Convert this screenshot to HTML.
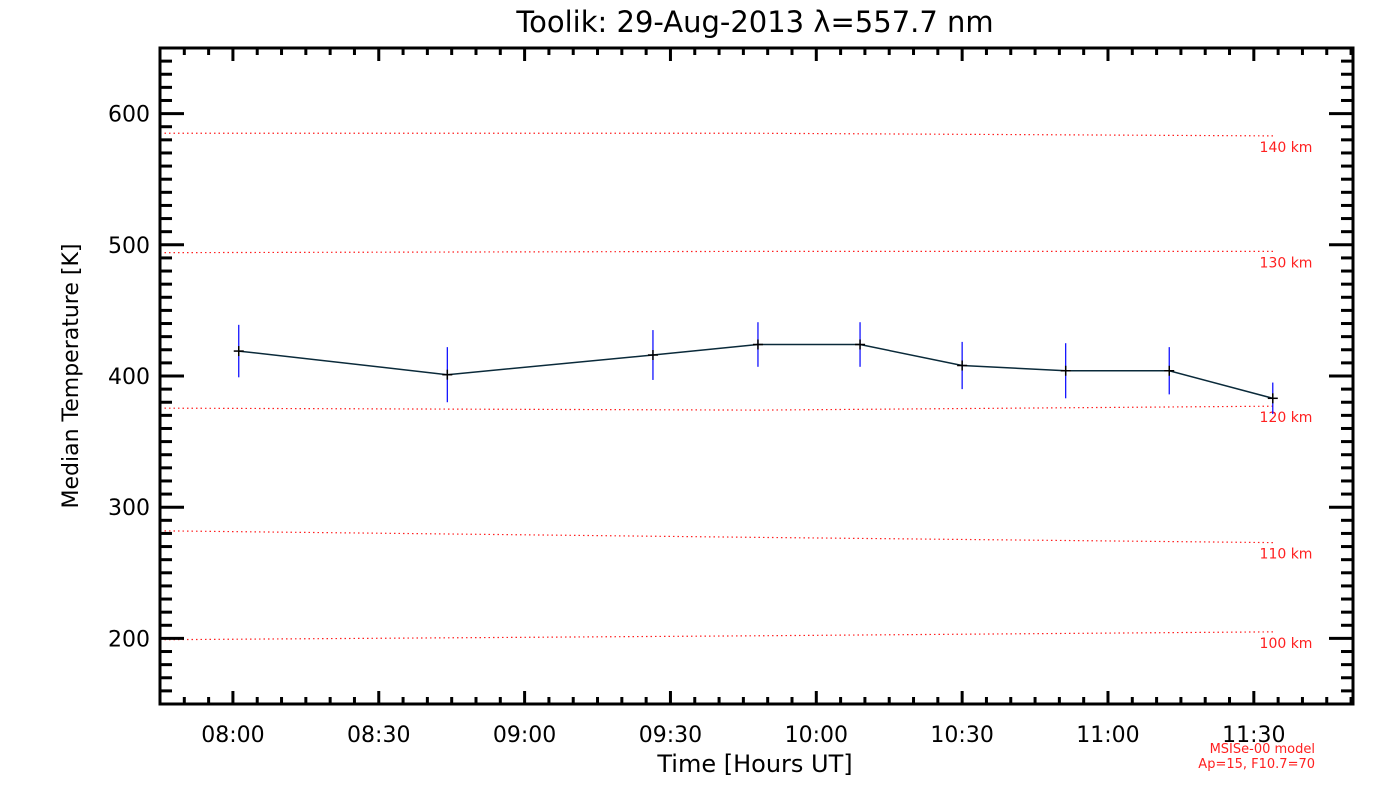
<!DOCTYPE html>
<html><head><meta charset="utf-8"><style>
body{margin:0;background:#fff}
svg{display:block;font-family:"DejaVu Sans","Liberation Sans",sans-serif}
</style></head><body>
<svg id="c" width="1400" height="800" viewBox="0 0 1400 800">
<text x="755" y="32" font-size="29" text-anchor="middle">Toolik: 29-Aug-2013 λ=557.7 nm</text>
<text x="755" y="772" font-size="24" text-anchor="middle">Time [Hours UT]</text>
<text transform="translate(78,376) rotate(-90)" font-size="22" text-anchor="middle">Median Temperature [K]</text>
<text x="1315" y="753" font-size="13" fill="#ff2020" text-anchor="end">MSISe-00 model</text>
<text x="1315" y="768" font-size="13" fill="#ff2020" text-anchor="end">Ap=15, F10.7=70</text>
<g id="g"></g>
</svg>
<script>
const xTicks=["08:00","08:30","09:00","09:30","10:00","10:30","11:00","11:30"];
const xTickVals=[8,8.5,9,9.5,10,10.5,11,11.5];
const yTicks=[200,300,400,500,600];
const times=[8.02,8.735,9.44,9.8,10.15,10.5,10.855,11.21,11.565];
const temps=[419,401,416,424,424,408,404,404,383];
const errs=[20,21,19,17,17,18,21,18,12];
const altLabels=["100 km","110 km","120 km","130 km","140 km"];
const altStart=[199,282,375.5,494,585];
const altMid=[202,277,374,495,585];
const altEnd=[205,273,377,495,583];
const X0=7.75,X1=11.84,Y0=150,Y1=650,L=160,R=1353,T=48,B=704;
const sx=v=>L+(v-X0)/(X1-X0)*(R-L);
const sy=v=>B-(v-Y0)/(Y1-Y0)*(B-T);
const g=document.getElementById('g');const NS="http://www.w3.org/2000/svg";
function mk(t,a,p){const e=document.createElementNS(NS,t);for(const k in a)e.setAttribute(k,a[k]);(p||g).appendChild(e);return e;}
altLabels.forEach((lb,i)=>{
 const x1=sx(7.75),xm=sx(9.8),x2=sx(11.57);
 const p=mk('polyline',{points:`${x1},${sy(altStart[i])} ${xm},${sy(altMid[i])} ${x2},${sy(altEnd[i])}`,fill:'none',stroke:'#ff2020','stroke-width':1.2,'stroke-dasharray':'1.5 3'});
 
 
 const t=mk('text',{x:1286,y:sy(altEnd[i])+16,'font-size':14,fill:'#ff2020','text-anchor':'middle'});t.textContent=lb;
 
 
});
const f=mk('rect',{x:L,y:T,width:R-L,height:B-T,fill:'none',stroke:'#000','stroke-width':3});


for(let v=150;v<=650;v+=10){const maj=v%100==0;const len=maj?24:12;
 mk('line',{x1:L,x2:L+len,y1:sy(v),y2:sy(v),stroke:'#000','stroke-width':3});
 mk('line',{x1:R-len,x2:R,y1:sy(v),y2:sy(v),stroke:'#000','stroke-width':3});}
yTicks.forEach(v=>{const t=mk('text',{x:150,y:sy(v)+8,'font-size':22,'text-anchor':'end'});t.textContent=v;
 
 });
for(let m=0;m<=250;m+=5){const v=7.75+m/60;if(v>X1)break;const maj=(m+15)%30==0;const len=maj?13:7;
 mk('line',{x1:sx(v),x2:sx(v),y1:B,y2:B-len,stroke:'#000','stroke-width':3});
 mk('line',{x1:sx(v),x2:sx(v),y1:T,y2:T+len,stroke:'#000','stroke-width':3});}
xTicks.forEach((lb,i)=>{const t=mk('text',{x:sx(xTickVals[i]),y:742,'font-size':22,'text-anchor':'middle'});t.textContent=lb;
 
 });
const ln=mk('polyline',{points:times.map((t,i)=>sx(t)+','+sy(temps[i])).join(' '),fill:'none',stroke:'#0a2a3a','stroke-width':1.5});


times.forEach((t,i)=>{const x=sx(t),y=sy(temps[i]);
 const e=mk('line',{x1:x,x2:x,y1:sy(temps[i]+errs[i]),y2:sy(temps[i]-errs[i]),stroke:'#0000ff','stroke-width':1.2});
 
 
 mk('line',{x1:x-5,x2:x+5,y1:y,y2:y,stroke:'#000','stroke-width':1.5});
 const p=mk('line',{x1:x,x2:x,y1:y-5,y2:y+5,stroke:'#000','stroke-width':1.5});
 
 
});
</script>
</body></html>
